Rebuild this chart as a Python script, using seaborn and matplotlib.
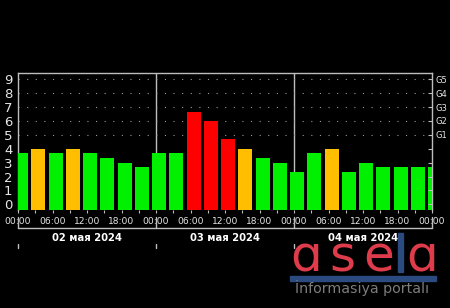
import numpy as np
import pandas as pd
import matplotlib
matplotlib.use("Agg")
import matplotlib.pyplot as plt
import matplotlib.transforms as mtransforms
from matplotlib.patches import Rectangle
import seaborn as sns

# ---------------- data ----------------
hours = list(range(0, 75, 3))  # 3-hour bins over 3 days (+ first bin of next day)
kp = [3.67, 4.0, 3.67, 4.0, 3.67, 3.33, 3.0, 2.67,
      3.67, 3.67, 6.67, 6.0, 4.67, 4.0, 3.33, 3.0,
      2.33, 3.67, 4.0, 2.33, 3.0, 2.67, 2.67, 2.67,
      2.67]
tick_hours = list(range(0, 73, 6))
tick_labels = ["00:00", "06:00", "12:00", "18:00"] * 3 + ["00:00"]
day_bounds = [0, 24, 48, 72]
day_centers = [12, 36, 60]
day_labels = ["02 мая 2024", "03 мая 2024", "04 мая 2024"]
y_ticks = list(range(10))
g_levels = [5, 6, 7, 8, 9]
g_labels = ["G1", "G2", "G3", "G4", "G5"]
level_colors = {"quiet": "#00f000", "active": "#ffbf00", "storm": "#ff0000"}


def level(v):
    if v < 4:
        return "quiet"
    if v < 4.5:
        return "active"
    return "storm"


W, H = 450, 308
BAR_SHIFT = 0.55
Y0, Y1 = -0.41, 9.45
FRAME = "#bdbdbd"
TXT = "#e6e6e6"

sns.set_style("dark", {"axes.facecolor": "black", "figure.facecolor": "black"})
plt.rcParams["font.family"] = ["DejaVu Sans"]

fig = plt.figure(figsize=(W / 100, H / 100), dpi=100, facecolor="black")
ax = fig.add_axes([18 / W, 1 - 210 / H, 414 / W, 137 / H])
ax.set_facecolor("black")

df = pd.DataFrame({"hour": np.array(hours) + BAR_SHIFT, "kp": kp,
                   "level": [level(v) for v in kp]})
sns.barplot(data=df, x="hour", y="kp", hue="level", palette=level_colors,
            native_scale=True, dodge=False, width=0.81, legend=False,
            errorbar=None, saturation=1, linewidth=0, ax=ax, zorder=3)
# bars rest on the bottom of the frame
for p in ax.patches:
    h = p.get_height()
    p.set_y(Y0)
    p.set_height(h - Y0)

ax.set_xlim(0, 72)
ax.set_ylim(Y0, Y1)
ax.grid(False)
ax.set_xlabel("")
ax.set_ylabel("")

for d in day_bounds[1:-1]:
    ax.axvline(d, color=FRAME, lw=1, zorder=1)
for g in g_levels:
    ax.axhline(g, color="#9a9a9a", lw=0.8, linestyle=(0, (1, 6.75)), zorder=1)

for s in ["left", "right", "top"]:
    ax.spines[s].set_visible(True)
    ax.spines[s].set_color(FRAME)
    ax.spines[s].set_linewidth(1)
ax.spines["bottom"].set_visible(False)

ax.set_yticks(y_ticks)
ax.set_yticklabels([str(v) for v in y_ticks])
ax.tick_params(axis="y", left=False, length=0, pad=4, labelsize=9.5,
               labelcolor=TXT)

ax.set_xticks(tick_hours)
ax.set_xticklabels(tick_labels)
ax.set_xticks(hours[:-1], minor=True)
ax.tick_params(axis="x", which="major", bottom=True, length=2, width=0.8,
               color=FRAME, pad=3, labelsize=6.6, labelcolor=TXT)
ax.tick_params(axis="x", which="minor", bottom=True, length=2, width=0.8,
               color=FRAME)

ax2 = ax.twinx()
ax2.set_ylim(Y0, Y1)
ax2.set_yticks(y_ticks)
ax2.set_yticklabels(["" if v not in g_levels else g_labels[g_levels.index(v)]
                     for v in y_ticks])
ax2.tick_params(axis="y", right=True, direction="in", length=3, width=0.8,
                color=FRAME, pad=2.5, labelsize=6, labelcolor=TXT)
for s in ax2.spines.values():
    s.set_visible(False)
ax2.grid(False)

# date bracket below the axis
bt = mtransforms.blended_transform_factory(ax.transData, fig.transFigure)
yb = 1 - 228 / H
ax.plot([0, 72], [yb, yb], transform=bt, color=FRAME, lw=1, clip_on=False)
for d in day_bounds:
    ax.plot([d, d], [yb, 1 - 217 / H], transform=bt, color=FRAME, lw=1,
            clip_on=False)
    ax.plot([d, d], [1 - 244 / H, 1 - 248 / H], transform=bt, color=FRAME,
            lw=1, clip_on=False)
for c, lab in zip(day_centers, day_labels):
    ax.text(c, 1 - 238 / H, lab, transform=bt, ha="center", va="center",
            color="white", fontsize=7.2, fontweight="bold", clip_on=False)

# watermark logo
RED = "#de3c4b"
BLUE = "#2a4a80"
for cx, ch in [(306.5, "ɑ"), (342.5, "s"), (379, "e"), (422, "ɑ")]:
    fig.text(cx / W, 1 - 272 / H, ch, ha="center", va="baseline",
             color=RED, fontsize=36, zorder=10)
fig.add_artist(Rectangle((398 / W, 1 - 272 / H), 5 / W, 39 / H,
                         transform=fig.transFigure, color=BLUE, zorder=10))
fig.add_artist(Rectangle((290 / W, 1 - 281 / H), 146 / W, 5 / H,
                         transform=fig.transFigure, color=BLUE, zorder=10))
fig.text(362 / W, 1 - 293.5 / H, "İnformasiya portalı", ha="center",
         va="baseline", color="#7c7c7c", fontsize=10.3, zorder=10)

fig.savefig("out.png", dpi=100, facecolor="black")
